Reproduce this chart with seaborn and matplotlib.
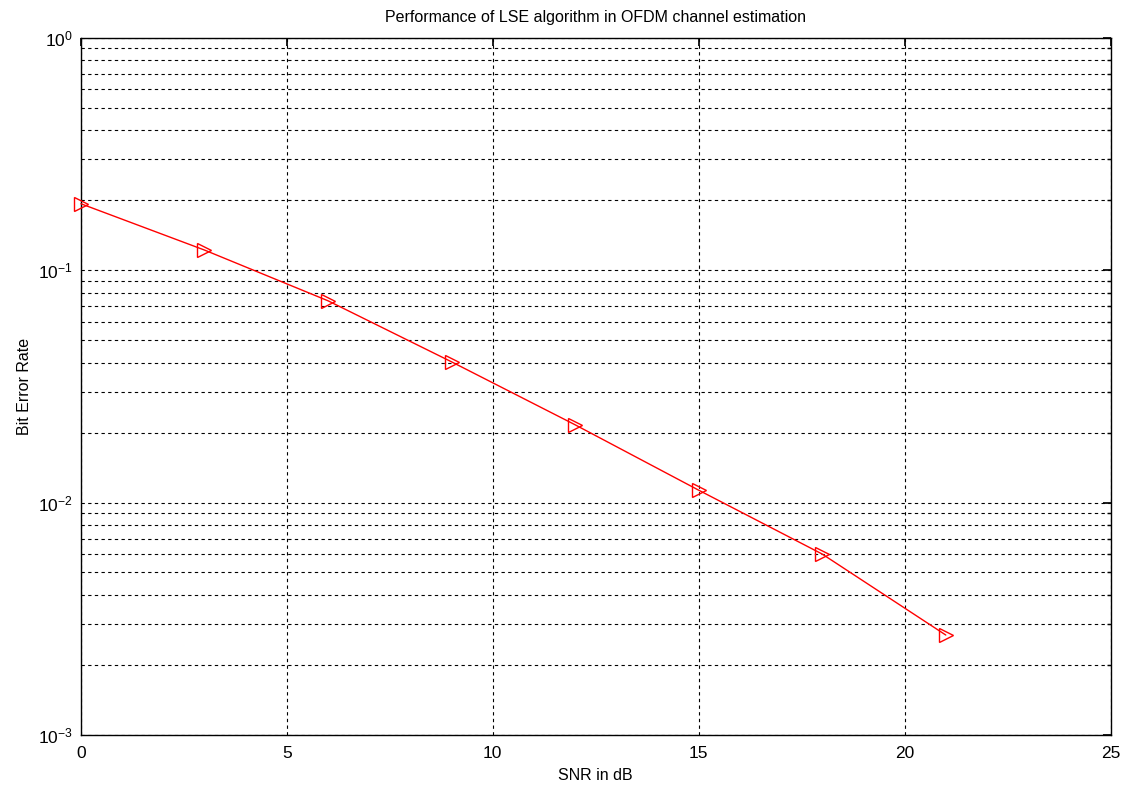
import matplotlib
matplotlib.use("Agg")
import matplotlib.pyplot as plt
import seaborn as sns
import pandas as pd
import numpy as np
from matplotlib.ticker import LogLocator, FixedLocator, NullFormatter

snr_db = [0, 3, 6, 9, 12, 15, 18, 21]
ber = [0.193, 0.122, 0.0738, 0.0403, 0.0216, 0.0113, 0.0060, 0.00269]
x_ticks = [0, 5, 10, 15, 20, 25]

sns.set_theme(style="white")
plt.rcParams['font.family'] = ['Liberation Sans', 'DejaVu Sans']

df = pd.DataFrame({"SNR": snr_db, "BER": ber})

fig = plt.figure(figsize=(11.24, 7.86), dpi=100)
ax = fig.add_axes([0.072, 0.065, 0.916, 0.887])

sns.lineplot(data=df, x="SNR", y="BER", ax=ax, color="red", linewidth=1.0,
             marker=">", markersize=10, markerfacecolor="none",
             markeredgecolor="red", markeredgewidth=1.0, clip_on=False, zorder=5)

ax.set_yscale("log")
ax.set_xlim(0, 25)
ax.set_ylim(1e-3, 1)
ax.xaxis.set_major_locator(FixedLocator(x_ticks))
ax.yaxis.set_major_locator(LogLocator(base=10, numticks=10))
ax.yaxis.set_minor_locator(LogLocator(base=10, subs=np.arange(2, 10), numticks=20))
ax.yaxis.set_minor_formatter(NullFormatter())

ax.grid(True, which="major", axis="both", color="black", linestyle=(0, (3, 3)), linewidth=0.8)
ax.grid(True, which="minor", axis="y", color="black", linestyle=(0, (3, 3)), linewidth=0.8)

for s in ax.spines.values():
    s.set_color("black")
    s.set_linewidth(1.0)
    s.set_visible(True)

ax.tick_params(axis="both", which="both", direction="in", top=True, right=True,
               colors="black", labelsize=12.5)
ax.tick_params(axis="both", which="major", length=6)
ax.tick_params(axis="y", which="minor", length=3)
ax.tick_params(axis="x", pad=8)
ax.tick_params(axis="y", pad=6)

ax.set_xlabel("SNR in dB", fontsize=11.5, color="black", labelpad=5)
ax.set_ylabel("Bit Error Rate", fontsize=11.5, color="black", labelpad=4)
ax.set_title("Performance of LSE algorithm in OFDM channel estimation", fontsize=11.5, color="black", pad=11)

fig.savefig("out.png", dpi=100, facecolor="white")
